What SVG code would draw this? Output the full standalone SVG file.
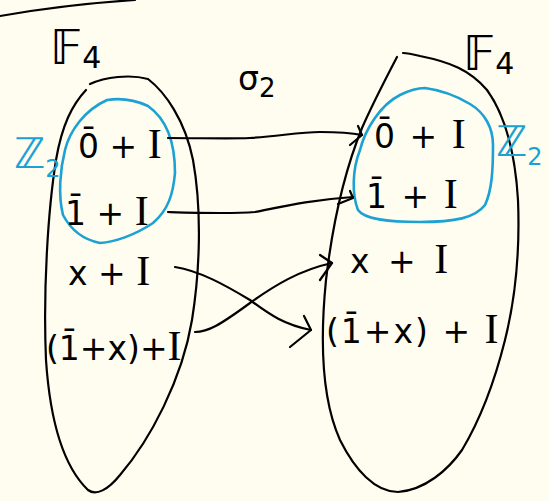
<svg xmlns="http://www.w3.org/2000/svg" width="549" height="501" viewBox="0 0 549 501">
<defs>
<style>
.bg{fill:#FFFDEF}
.ink{fill:none;stroke:#000;stroke-width:2.2;stroke-linecap:round;stroke-linejoin:round}
.blue{fill:none;stroke:#1BA1D3;stroke-width:2.6;stroke-linecap:round;stroke-linejoin:round}
.lbl{font-family:"DejaVu Sans","Liberation Sans",sans-serif;font-size:33px;fill:#000}
.sf{font-family:"Liberation Serif","DejaVu Serif",serif;font-size:42px}
.zz{font-family:"DejaVu Sans","Liberation Sans",sans-serif;font-size:42px;fill:#1BA1D3}
.ff{font-family:"DejaVu Sans","Liberation Sans",sans-serif;font-size:48px;fill:#000}
</style>
</defs>
<rect class="bg" x="0" y="0" width="549" height="501"/>
<path class="ink" d="M0,16 C40,9 90,3 135,0"/>
<g id="left-set">
<path class="ink" d="M90,84 C105,77 130,74 148,79 C165,92 185,120 193,160 C202,210 200,270 192,320 C182,380 150,440 120,475 C108,490 96,496 88,490 C62,465 50,420 46,360 C43,290 48,210 56,160 C62,125 72,105 86,90"/>
<text class="ff" x="50" y="64">𝔽<tspan font-size="30" dy="4">4</tspan></text>
</g>
<g id="right-set">
<path class="ink" d="M397,57 C385,80 372,105 362,128 C345,170 333,220 326,280 C320,340 322,400 340,440 C355,470 375,492 398,492 C425,490 448,470 462,450 C480,420 495,380 505,340 C515,300 520,250 518,200 C515,150 505,115 487,90 C470,70 450,62 420,56 C412,54 405,53 403,53"/>
<text class="ff" x="463" y="70">𝔽<tspan font-size="30" dy="4">4</tspan></text>
</g>
<g id="sigma">
<text class="lbl" x="238" y="90" font-size="40">σ<tspan font-size="26" dy="7">2</tspan></text>
</g>
<g id="left-z2">
<path class="blue" d="M107,100 C120,98 135,100 148,106 C165,118 175,140 175,173 C173,195 168,210 153,223 C135,235 115,242 100,243 C85,240 72,232 63,215 C58,195 60,170 65,150 C70,130 85,110 107,100 Z"/>
<text class="zz" x="14" y="168">ℤ<tspan font-size="24" dy="9">2</tspan></text>
</g>
<g id="right-z2">
<path class="blue" d="M425,88 C440,90 455,95 470,104 C485,113 493,128 493,145 C493,170 492,190 485,205 C475,218 455,222 420,222 C390,222 365,220 358,210 C352,195 352,170 360,150 C365,130 380,105 400,95 C410,90 418,88 425,88 Z"/>
<text class="zz" x="496" y="156">ℤ<tspan font-size="24" dy="9">2</tspan></text>
</g>
<g id="left-labels">
<text class="lbl" x="78" y="158">0̄ + <tspan class="sf">I</tspan></text>
<text class="lbl" x="65" y="225">1̄ + <tspan class="sf">I</tspan></text>
<text class="lbl" x="68" y="285">x + <tspan class="sf">I</tspan></text>
<text class="lbl" x="46" y="360">(1̄+x)+<tspan class="sf">I</tspan></text>
</g>
<g id="right-labels">
<text class="lbl" x="374" y="148" letter-spacing="2">0̄ + <tspan class="sf">I</tspan></text>
<text class="lbl" x="366" y="208" letter-spacing="2">1̄ + <tspan class="sf">I</tspan></text>
<text class="lbl" x="350" y="273" letter-spacing="4">x + <tspan class="sf">I</tspan></text>
<text class="lbl" x="326" y="343" letter-spacing="2">(1̄+x) + <tspan class="sf">I</tspan></text>
</g>
<g id="connectors">
<path class="ink" d="M168,138 C200,138 230,139 250,138 C280,136 300,132 320,132 C340,132 352,133 362,135"/>
<path class="ink" d="M350,145 L362,135 L358,126"/>
<path class="ink" d="M168,212 C200,213 230,214 255,212 C285,206 310,200 353,197"/>
<path class="ink" d="M338,204 L353,198 L350,191"/>
<path class="ink" d="M175,267 C200,271 225,285 250,300 C270,315 285,325 311,330"/>
<path class="ink" d="M304,316 L311,330 L290,347"/>
<path class="ink" d="M195,332 C208,332 220,325 250,303 C275,285 300,270 332,263"/>
<path class="ink" d="M320,255 L332,263 L320,280"/>
</g>
</svg>
